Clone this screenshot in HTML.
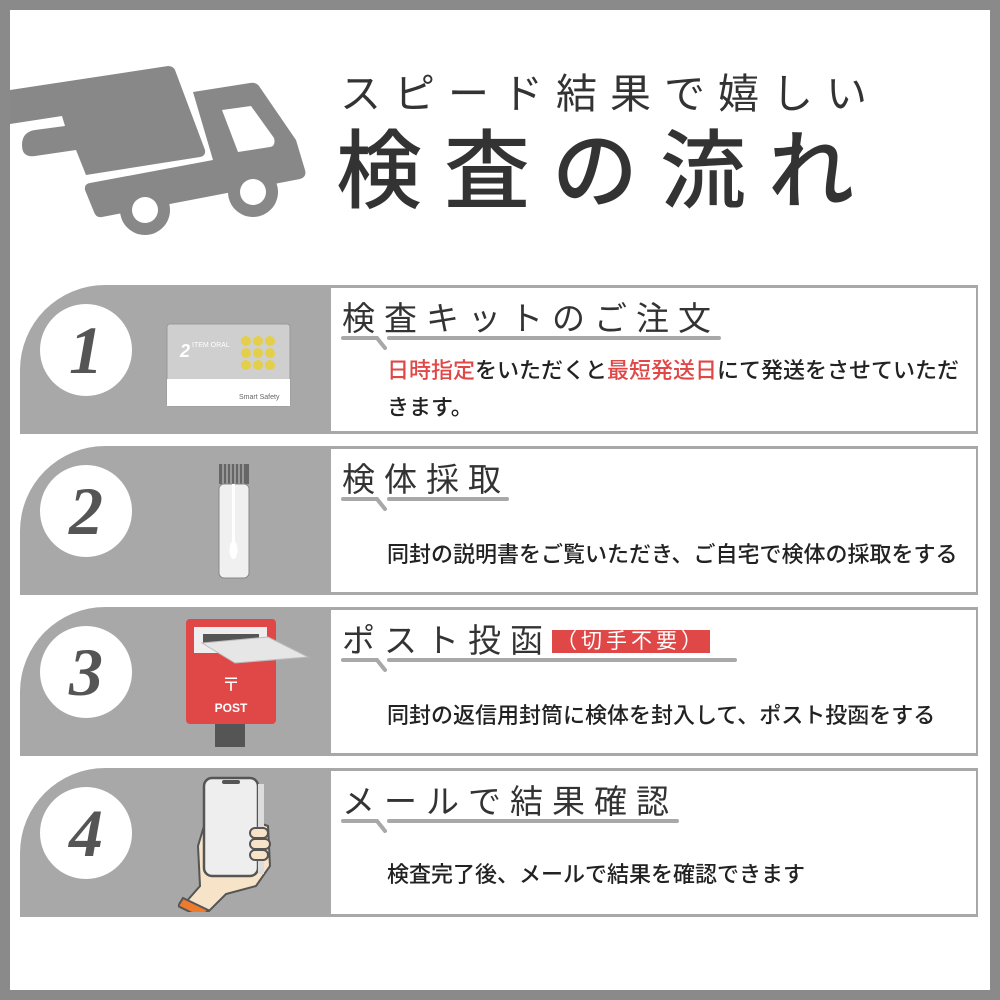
<!DOCTYPE html>
<html><head><meta charset="utf-8"><style>
*{margin:0;padding:0;box-sizing:border-box}
body{width:1000px;height:1000px;background:#fff;position:relative;overflow:hidden;font-family:"Liberation Sans","Noto Sans CJK JP",sans-serif;color:#333}
.frame{position:absolute;left:0;top:0;width:1000px;height:1000px;border:10px solid #8a8a8a}
.t1{position:absolute;left:340px;top:60px;font-size:41px;letter-spacing:13px;color:#333;white-space:nowrap}
.t2{position:absolute;left:336px;top:101px;font-size:86px;letter-spacing:22px;color:#333;white-space:nowrap;font-weight:500}
.row{position:absolute;left:20px;width:958px;height:149px;background:#a8a8a8;border-top-left-radius:85px}
.panel{position:absolute;left:311px;top:3px;width:645px;height:143px;background:#fff}
.circ{position:absolute;left:20px;top:19px;width:92px;height:92px;border-radius:50%;background:#fff;font-family:"Liberation Serif",serif;font-style:italic;font-weight:bold;font-size:68px;color:#555;text-align:center;line-height:92px}
.h{position:absolute;left:11px;top:4px;font-size:33px;letter-spacing:9px;white-space:nowrap;color:#333}
.b{position:absolute;left:56px;font-size:22px;white-space:nowrap;color:#222;font-weight:500}
.red{color:#e04848}
.tag{background:#e04848;color:#fff;font-size:21px;letter-spacing:4px;padding:0 4px;position:relative;top:-4px}
svg{position:absolute}
</style></head><body>
<div class="frame"></div>
<svg style="left:0;top:0" width="320" height="250" viewBox="0 0 320 250">
<g fill="#888">
<path d="M10 90 L168 66 Q173 66 175 70 L205 150 Q206 156 200 157 L86 175 L76 150 L35 156 Q22 158 22 145 Q22 132 35 130 L65 126 L62 116 L10 124Z"/>
<path d="M193 92 L250 83 Q256 82 259 86 L296 140 L305 170 Q307 177 300 179 L102 217 Q96 218 94 212 L85 190 Q84 184 90 183 L213 160Z"/>
<circle cx="145" cy="210" r="25"/><circle cx="253" cy="192" r="25"/>
</g>
<g fill="#fff"><path d="M222 110 L251 106 L274 138 Q276 146 270 147 L238 152Z"/>
<circle cx="145" cy="210" r="13"/><circle cx="253" cy="192" r="13"/></g>
</svg>
<div class="t1">スピード結果で嬉しい</div>
<div class="t2">検査の流れ</div>

<!-- row 1 -->
<div class="row" style="top:285px">
<div class="circ">1</div>
<svg style="left:146px;top:38px" width="126" height="86"><rect x="1" y="1" width="123" height="82" rx="3" fill="#cfcfcf" stroke="#999"/><rect x="1" y="56" width="123" height="27" fill="#fff"/><text x="14" y="34" font-size="18" fill="#fff" font-family="Liberation Sans" font-style="italic" font-weight="bold">2</text><text x="26" y="24" font-size="7" fill="#fff" font-family="Liberation Sans">ITEM ORAL</text><text x="73" y="76" font-size="7" fill="#666" font-family="Liberation Sans">Smart Safety</text><g fill="#e3cf4a"><circle cx="80" cy="18" r="5"/><circle cx="92" cy="18" r="5"/><circle cx="104" cy="18" r="5"/><circle cx="80" cy="30" r="5"/><circle cx="92" cy="30" r="5"/><circle cx="104" cy="30" r="5"/><circle cx="80" cy="42" r="5"/><circle cx="92" cy="42" r="5"/><circle cx="104" cy="42" r="5"/></g></svg>
<div class="panel">
<div class="h">検査キットのご注文</div>
<svg style="left:10px;top:46px" width="380" height="22"><path d="M2 4 H36 L44 14 M48 4 H378" stroke="#a8a8a8" stroke-width="4" fill="none" stroke-linecap="round"/></svg>
<div class="b" style="top:65px"><span class="red">日時指定</span>をいただくと<span class="red">最短発送日</span>にて発送をさせていただ</div>
<div class="b" style="top:102px">きます。</div>
</div></div>

<!-- row 2 -->
<div class="row" style="top:446px">
<div class="circ">2</div>
<svg style="left:196px;top:16px" width="36" height="118"><rect x="3" y="2" width="30" height="20" fill="#666"/><g stroke="#ccc" stroke-width="1"><path d="M7 2V22M11 2V22M15 2V22M19 2V22M23 2V22M27 2V22"/></g><rect x="3" y="22" width="30" height="94" rx="5" fill="#f0f0f0" stroke="#888"/><rect x="16" y="22" width="3" height="60" fill="#fff"/><ellipse cx="17.5" cy="88" rx="4" ry="9" fill="#fff"/></svg>
<div class="panel">
<div class="h">検体採取</div>
<svg style="left:10px;top:46px" width="380" height="22"><path d="M2 4 H36 L44 14 M48 4 H166" stroke="#a8a8a8" stroke-width="4" fill="none" stroke-linecap="round"/></svg>
<div class="b" style="top:88px">同封の説明書をご覧いただき、ご自宅で検体の採取をする</div>
</div></div>

<!-- row 3 -->
<div class="row" style="top:607px">
<div class="circ">3</div>
<svg style="left:160px;top:8px" width="130" height="132"><rect x="6" y="4" width="90" height="105" rx="4" fill="#e04848"/><rect x="14" y="12" width="73" height="26" fill="#eee"/><rect x="23" y="19" width="56" height="10" fill="#555"/><path d="M22 28 L88 22 L128 42 L55 48Z" fill="#e6e6e6" stroke="#bbb"/><text x="51" y="76" font-size="18" fill="#fff" text-anchor="middle" font-family="Noto Sans CJK JP">〒</text><text x="51" y="97" font-size="12" fill="#fff" text-anchor="middle" font-weight="bold" font-family="Liberation Sans">POST</text><rect x="35" y="109" width="30" height="23" fill="#555"/></svg>
<div class="panel">
<div class="h">ポスト投函<span class="tag">（切手不要）</span></div>
<svg style="left:10px;top:46px" width="400" height="22"><path d="M2 4 H36 L44 14 M48 4 H394" stroke="#a8a8a8" stroke-width="4" fill="none" stroke-linecap="round"/></svg>
<div class="b" style="top:88px">同封の返信用封筒に検体を封入して、ポスト投函をする</div>
</div></div>

<!-- row 4 -->
<div class="row" style="top:768px">
<div class="circ">4</div>
<svg style="left:158px;top:8px" width="100" height="136"><path d="M32 30 L20 70 L22 110 L8 126 L30 136 L48 118 L78 110 L92 90 L90 50 Z" fill="#f7e3c8" stroke="#555" stroke-width="2"/><rect x="26" y="2" width="54" height="98" rx="8" fill="#eee" stroke="#555" stroke-width="2.5"/><rect x="44" y="4" width="18" height="4" rx="2" fill="#555"/><rect x="80" y="8" width="6" height="90" fill="#ddd"/><path d="M5 122 L30 134 L24 142 L0 130Z" fill="#ee7a2e" stroke="#555" stroke-width="2"/><g fill="#f7e3c8" stroke="#555" stroke-width="2"><rect x="72" y="52" width="18" height="10" rx="5"/><rect x="72" y="63" width="20" height="10" rx="5"/><rect x="72" y="74" width="18" height="10" rx="5"/></g></svg>
<div class="panel">
<div class="h">メールで結果確認</div>
<svg style="left:10px;top:46px" width="380" height="22"><path d="M2 4 H36 L44 14 M48 4 H336" stroke="#a8a8a8" stroke-width="4" fill="none" stroke-linecap="round"/></svg>
<div class="b" style="top:86px">検査完了後、メールで結果を確認できます</div>
</div></div>
</body></html>
